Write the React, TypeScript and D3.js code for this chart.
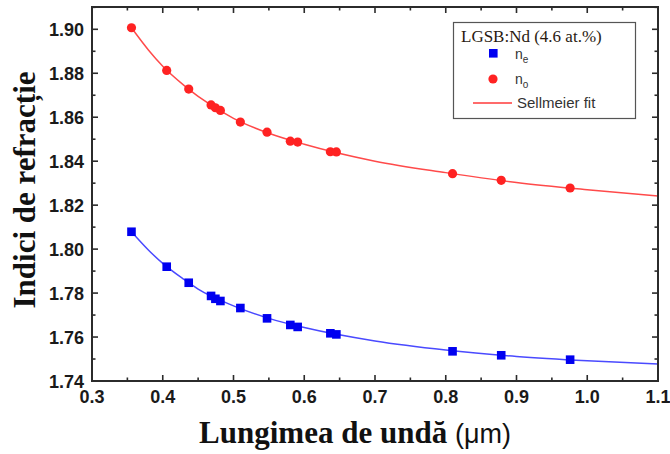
import React from "react";
import * as d3 from "d3";

const wavelengths = [0.3558, 0.4056, 0.4367, 0.4683, 0.4744, 0.4815, 0.5097, 0.5474, 0.5803, 0.5907, 0.6369, 0.6454, 0.8096, 0.8784, 0.9758];
const noValues = [1.9007, 1.8813, 1.8728, 1.8656, 1.8643, 1.8631, 1.8578, 1.8532, 1.8491, 1.8487, 1.8443, 1.8442, 1.8343, 1.8313, 1.8278];
const neValues = [1.8079, 1.7920, 1.7847, 1.7787, 1.7774, 1.7764, 1.7732, 1.7685, 1.7655, 1.7646, 1.7617, 1.7612, 1.7535, 1.7517, 1.7497];

const fitWavelengths = [0.3558, 0.38, 0.40, 0.43, 0.45, 0.5, 0.55, 0.6, 0.7, 0.8, 0.9, 1.0, 1.1];
const noFit = [1.9007, 1.8905, 1.8832, 1.8745, 1.8695, 1.8595, 1.8527, 1.8477, 1.8400, 1.8348, 1.8303, 1.8270, 1.8242];
const neFit = [1.8079, 1.7995, 1.7935, 1.7862, 1.7818, 1.7742, 1.7685, 1.7643, 1.7582, 1.7541, 1.7512, 1.7492, 1.7477];

const xTicks = [0.3, 0.4, 0.5, 0.6, 0.7, 0.8, 0.9, 1.0, 1.1];
const yTicks = [1.74, 1.76, 1.78, 1.80, 1.82, 1.84, 1.86, 1.88, 1.90];

export default function App() {
  const W = 670, H = 454;
  const L = 92, T = 7, R = 658, B = 381;
  const x = d3.scaleLinear().domain([0.3, 1.1]).range([L, R]);
  const y = d3.scaleLinear().domain([1.74, 1.90]).range([B, 29.3]);
  const line = d3.line<[number, number]>().x(d => x(d[0])).y(d => y(d[1])).curve(d3.curveMonotoneX);
  const noPath = line(fitWavelengths.map((w, i) => [w, noFit[i]]) as [number, number][]) || "";
  const nePath = line(fitWavelengths.map((w, i) => [w, neFit[i]]) as [number, number][]) || "";
  const xMinor = d3.range(0.35, 1.1, 0.1);
  const yMinor = d3.range(1.75, 1.90, 0.02);
  const yTopMinor = [1.91];
  const frame = "#2b2b2b";
  const tickFont = { fontFamily: "Liberation Sans, Arial, sans-serif", fontWeight: 700, fontSize: 18, fill: "#1a1a1a" } as const;
  return (
    <svg width={W} height={H} style={{ position: "absolute", left: 0, top: 0, background: "#fff" }}>
      <rect x={0} y={0} width={W} height={H} fill="#fff" />
      <clipPath id="clip"><rect x={L} y={T} width={R - L} height={B - T} /></clipPath>
      <g clipPath="url(#clip)">
        <path d={noPath} fill="none" stroke="#ff4a4a" strokeWidth={1.5} />
        <path d={nePath} fill="none" stroke="#4a4aff" strokeWidth={1.5} />
      </g>
      {wavelengths.map((w, i) => (
        <circle key={"o" + i} cx={x(w)} cy={y(noValues[i])} r={4.6} fill="#ff2222" />
      ))}
      {wavelengths.map((w, i) => (
        <rect key={"e" + i} x={x(w) - 4.3} y={y(neValues[i]) - 4.3} width={8.6} height={8.6} fill="#0000f0" />
      ))}
      {xTicks.map((t, i) => (
        <g key={"xt" + i}>
          <line x1={x(t)} x2={x(t)} y1={B} y2={B - 6} stroke={frame} strokeWidth={1.6} />
          <line x1={x(t)} x2={x(t)} y1={T} y2={T + 6} stroke={frame} strokeWidth={1.6} />
          <text x={x(t)} y={403} textAnchor="middle" {...tickFont}>{t.toFixed(1)}</text>
        </g>
      ))}
      {xMinor.map((t, i) => (
        <g key={"xm" + i}>
          <line x1={x(t)} x2={x(t)} y1={B} y2={B - 3.5} stroke={frame} strokeWidth={1.6} />
          <line x1={x(t)} x2={x(t)} y1={T} y2={T + 3.5} stroke={frame} strokeWidth={1.6} />
        </g>
      ))}
      {yTicks.map((t, i) => (
        <g key={"yt" + i}>
          <line x1={L} x2={L + 6} y1={y(t)} y2={y(t)} stroke={frame} strokeWidth={1.6} />
          <line x1={R} x2={R - 6} y1={y(t)} y2={y(t)} stroke={frame} strokeWidth={1.6} />
          <text x={84} y={y(t) + 6.5} textAnchor="end" {...tickFont}>{t.toFixed(2)}</text>
        </g>
      ))}
      {[...yMinor, ...yTopMinor].map((t, i) => (
        <g key={"ym" + i}>
          <line x1={L} x2={L + 3.5} y1={y(t)} y2={y(t)} stroke={frame} strokeWidth={1.6} />
          <line x1={R} x2={R - 3.5} y1={y(t)} y2={y(t)} stroke={frame} strokeWidth={1.6} />
        </g>
      ))}
      <rect x={L} y={T} width={R - L} height={B - T} fill="none" stroke={frame} strokeWidth={2} />
      <rect x={453.5} y={22.5} width={182} height={96} fill="#fff" stroke="#555" strokeWidth={1.2} />
      <text x={461} y={42} fontFamily="Liberation Serif, Times New Roman, serif" fontSize={17} fill="#2a1a10">LGSB:Nd (4.6 at.%)</text>
      <rect x={489} y={49} width={8.6} height={8.6} fill="#0000f0" />
      <text x={515} y={59} fontFamily="Liberation Sans, Arial, sans-serif" fontSize={14} fill="#333">n<tspan fontSize={10} dy={4}>e</tspan></text>
      <circle cx={493} cy={79} r={4.6} fill="#ff2222" />
      <text x={515} y={84} fontFamily="Liberation Sans, Arial, sans-serif" fontSize={14} fill="#333">n<tspan fontSize={10} dy={4}>o</tspan></text>
      <line x1={473} x2={512} y1={103} y2={103} stroke="#ff6b6b" strokeWidth={1.8} />
      <text x={517} y={108} fontFamily="Liberation Sans, Arial, sans-serif" fontSize={15} fill="#333">Sellmeier fit</text>
      <text x={355} y={443} textAnchor="middle" fontFamily="Liberation Serif, Times New Roman, serif" fontWeight={700} fontSize={31} fill="#111">
        Lungimea de undă <tspan fontFamily="Liberation Sans, Arial, sans-serif" fontWeight={400} fontSize={27}>(μm)</tspan>
      </text>
      <text transform={`translate(35, 190) rotate(-90)`} textAnchor="middle" fontFamily="Liberation Serif, Times New Roman, serif" fontWeight={700} fontSize={31} fill="#111">
        Indici de refracție
      </text>
    </svg>
  );
}
